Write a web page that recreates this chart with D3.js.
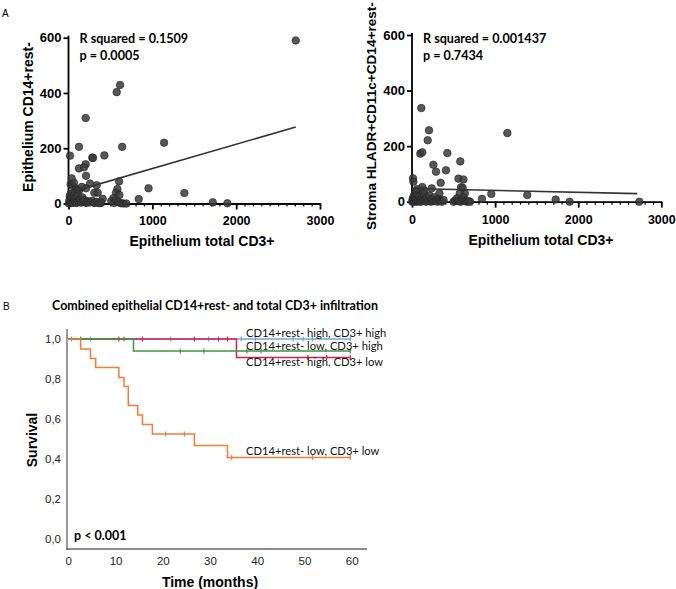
<!DOCTYPE html>
<html>
<head>
<meta charset="utf-8">
<script src="https://cdn.jsdelivr.net/npm/d3@7"></script>
<style>
  html, body { margin: 0; padding: 0; background: #fff; }
  svg { display: block; }
</style>
</head>
<body>
<svg id="chart" width="676" height="589"></svg>
<script>
// ---------- Panel A (left): Epithelium total CD3+ vs Epithelium CD14+rest- ----------
const leftX = [2711,575,615,205,125,640,1140,18,284,292,428,125,205,185,209,38,26,44,257,209,336,603,583,567,607,535,308,348,408,955,1382,838,1721,1895,90,105,
  5,10,15,20,25,30,35,40,48,55,60,70,75,85,95,110,120,135,150,165,180,195,215,235,260,285,310,335,365,390,510,545,570,595,625,655,690,130,160,65];
const leftY = [590,403,429,309,205,205,220,173,166,165,174,127,142,131,100,91,70,64,72,55,66,80,52,39,31,19,39,39,17,55,38,16,4,1,54,45,
  0,12,25,5,35,18,2,8,28,15,3,40,10,20,2,30,8,15,3,22,6,12,2,8,4,10,2,6,1,3,8,2,12,5,1,0,0,50,60,75];
const leftFit = [[0, 38.4], [2711, 277]];
const leftStats = ["R squared = 0.1509", "p = 0.0005"];

// ---------- Panel A (right): Epithelium total CD3+ vs Stroma HLADR+CD11c+CD14+rest- ----------
const rightX = [112,205,189,1147,100,124,425,581,257,289,409,345,12,17,559,619,590,610,124,237,636,575,52,954,1387,842,1729,1897,2735,
  3,8,14,20,26,33,40,47,55,62,70,78,88,96,106,118,130,142,155,168,182,196,210,225,240,255,270,288,305,322,340,360,380,500,520,540,560,585,600,620,640,660,680,700,150,60,330];
const rightY = [337,257,221,247,173,178,175,145,133,108,113,68,84,72,83,80,52,50,53,48,30,30,38,28,24,10,8,0,0,
  0,10,3,20,6,0,14,4,25,0,9,2,18,5,0,12,3,28,6,0,15,4,22,0,8,2,16,5,0,10,3,0,6,0,4,12,2,0,8,16,3,0,2,0,40,45,30];
const rightFit = [[0, 47.5], [2711, 29]];
const rightStats = ["R squared = 0.001437", "p = 0.7434"];

const scatterXTicks = [0, 1000, 2000, 3000];
const scatterYTicks = [0, 200, 400, 600];

// ---------- Panel B: Kaplan-Meier ----------
const kmSeries = ["CD14+rest- high, CD3+ high", "CD14+rest- high, CD3+ low", "CD14+rest- low, CD3+ high", "CD14+rest- low, CD3+ low"];
const kmColors = ["#6fa3e6", "#d8204f", "#3d9441", "#f47c3a"];
const kmEventTimes = [[], [35.6], [13.8], [2.6,4.7,5.8,10.7,11.8,12.7,14.7,15.7,17.8,26.7,33.7]];
const kmEventSurv = [[], [0.908], [0.94], [0.95,0.903,0.857,0.808,0.762,0.668,0.62,0.573,0.525,0.468,0.408]];
const kmCensor = [
  [0.7,4.7,21.7,29.7,36.6,39.6,47.6,49.7,51.7,59.7],
  [10.7,15.7,26.7,31.8,33.7,50.7,54.7,59.7],
  [2.6,11.8,23.7,28.7,37.8,40.8,59.7],
  [20.6,24.6,34.6,51.7,59.7]
];
const kmEnd = 59.7;
const kmXTicks = [0,10,20,30,40,50,60];
const kmYTicks = [0,0.2,0.4,0.6,0.8,1.0];

const svg = d3.select("#chart");
const ARIAL = "'Liberation Sans', Arial, sans-serif";
const CAL = "Lato, 'Open Sans', sans-serif";

// Panel letters
svg.append("text").attr("x", 2).attr("y", 17).attr("font-family", ARIAL).attr("font-size", 10).text("A");
svg.append("text").attr("x", 3).attr("y", 310).attr("font-family", ARIAL).attr("font-size", 10).text("B");

function scatterPanel(o) {
  const x = d3.scaleLinear().domain([0, 3000]).range([o.x0, o.x1]);
  const y = d3.scaleLinear().domain([0, 600]).range([o.y0, o.y1]);
  const g = svg.append("g");

  // minor x ticks
  const minor = g.append("g").attr("transform", `translate(0,${o.y0})`)
    .call(d3.axisBottom(x).tickValues(d3.range(0, 3001, 100)).tickSize(3).tickFormat(""));
  minor.select(".domain").remove();
  minor.selectAll("line").attr("stroke", "#000").attr("stroke-width", 1.2);

  const xa = g.append("g").attr("transform", `translate(0,${o.y0})`)
    .call(d3.axisBottom(x).tickValues(scatterXTicks).tickFormat(d3.format("d")).tickSize(6).tickPadding(7).tickSizeOuter(0));
  xa.select(".domain").attr("stroke", "#000").attr("stroke-width", 1.8);
  xa.selectAll("line").attr("stroke", "#000").attr("stroke-width", 1.8);
  xa.selectAll("text").attr("font-family", ARIAL).attr("font-weight", "bold").attr("font-size", 12.5).attr("fill", "#000");

  const ya = g.append("g").attr("transform", `translate(${o.x0},0)`)
    .call(d3.axisLeft(y).tickValues(scatterYTicks).tickFormat(d3.format("d")).tickSize(5).tickPadding(2).tickSizeOuter(0));
  ya.select(".domain").attr("stroke", "#000").attr("stroke-width", 1.8).attr("d", `M0,${o.y0}V${o.y1 - 2}`);
  ya.selectAll("line").attr("stroke", "#000").attr("stroke-width", 1.8);
  ya.selectAll("text").attr("font-family", ARIAL).attr("font-weight", "bold").attr("font-size", 13).attr("fill", "#000");

  // points
  g.append("g").selectAll("circle").data(o.xs.map((d, i) => [d, o.ys[i]])).join("circle")
    .attr("cx", d => x(d[0])).attr("cy", d => y(d[1])).attr("r", 3.8)
    .attr("fill", "#3a3a3a").attr("fill-opacity", 0.85).attr("stroke", "#222").attr("stroke-width", 0.6);

  // regression line
  g.append("path").attr("d", d3.line().x(d => x(d[0])).y(d => y(d[1]))(o.fit))
    .attr("stroke", "#333").attr("stroke-width", 1.6).attr("fill", "none");

  // stats
  g.append("text").attr("x", o.statX).attr("y", 43).attr("font-family", CAL).attr("font-weight", "bold").attr("font-size", 12.6).text(o.stats[0]);
  g.append("text").attr("x", o.statX).attr("y", 60).attr("font-family", CAL).attr("font-weight", "bold").attr("font-size", 12.6).text(o.stats[1]);

  // axis titles
  g.append("text").attr("x", o.xlabX).attr("y", o.xlabY).attr("text-anchor", "middle")
    .attr("font-family", ARIAL).attr("font-weight", "bold").attr("font-size", 14).text("Epithelium total CD3+");
  g.append("text").attr("transform", `translate(${o.ylabX},${o.ylabY}) rotate(-90)`).attr("text-anchor", "middle")
    .attr("dy", "0.35em").attr("font-family", ARIAL).attr("font-weight", "bold").attr("font-size", o.ylabSize).text(o.ylab);
}

scatterPanel({ x0: 68.5, x1: 320, y0: 203.5, y1: 37.7, xs: leftX, ys: leftY, fit: leftFit, stats: leftStats,
  statX: 79.5, xlabX: 202, xlabY: 246, ylabX: 28, ylabY: 117, ylabSize: 14, ylab: "Epithelium CD14+rest-" });
scatterPanel({ x0: 412, x1: 661.3, y0: 201.7, y1: 35, xs: rightX, ys: rightY, fit: rightFit, stats: rightStats,
  statX: 423, xlabX: 541, xlabY: 245, ylabX: 371, ylabY: 116, ylabSize: 13.6, ylab: "Stroma HLADR+CD11c+CD14+rest-" });

// ---------- Panel B ----------
const kx = d3.scaleLinear().domain([0, 60]).range([68.3, 351.7]);
const ky = d3.scaleLinear().domain([0, 1]).range([539, 339]);
const gB = svg.append("g");

gB.append("text").attr("x", 215).attr("y", 310).attr("text-anchor", "middle").attr("font-family", CAL)
  .attr("font-weight", "bold").attr("font-size", 12.4).text("Combined epithelial CD14+rest- and total CD3+ infiltration");

const kya = gB.append("g").attr("transform", "translate(67,0)")
  .call(d3.axisLeft(ky).tickValues(kmYTicks).tickSize(0).tickPadding(6).tickFormat(d => d3.format(".1f")(d).replace(".", ",")));
kya.select(".domain").remove();
kya.selectAll("text").attr("font-family", ARIAL).attr("font-size", 11.5).attr("fill", "#222");

const kxa = gB.append("g").attr("transform", "translate(0,549)")
  .call(d3.axisBottom(kx).tickValues(kmXTicks).tickSize(0).tickPadding(8));
kxa.select(".domain").remove();
kxa.selectAll("text").attr("font-family", ARIAL).attr("font-size", 11.5).attr("fill", "#222");

gB.append("line").attr("x1", 67).attr("x2", 67).attr("y1", 329).attr("y2", 550).attr("stroke", "#9a9a9a").attr("stroke-width", 2);
gB.append("line").attr("x1", 66).attr("x2", 367).attr("y1", 549).attr("y2", 549).attr("stroke", "#666").attr("stroke-width", 1.5);

// curves (draw order: blue, red, green, orange)
kmSeries.forEach((name, i) => {
  const pts = [[0, 1]];
  let s = 1;
  kmEventTimes[i].forEach((t, j) => { pts.push([t, s]); s = kmEventSurv[i][j]; pts.push([t, s]); });
  pts.push([kmEnd, s]);
  gB.append("path").attr("d", d3.line().x(d => kx(d[0])).y(d => ky(d[1]))(pts))
    .attr("fill", "none").attr("stroke", kmColors[i]).attr("stroke-width", 1.5);
  const survAt = t => { let v = 1; kmEventTimes[i].forEach((et, j) => { if (t >= et) v = kmEventSurv[i][j]; }); return v; };
  gB.append("g").selectAll("line").data(kmCensor[i]).join("line")
    .attr("x1", d => kx(d)).attr("x2", d => kx(d))
    .attr("y1", d => ky(survAt(d)) - 2.5).attr("y2", d => ky(survAt(d)) + 2.5)
    .attr("stroke", kmColors[i]).attr("stroke-width", 1.2);
});

// series labels
const labelPos = [[246, 337], [246, 366], [246, 350], [246, 455]];
kmSeries.forEach((name, i) => {
  gB.append("text").attr("x", labelPos[i][0]).attr("y", labelPos[i][1]).attr("font-family", CAL)
    .attr("font-size", 11.2).attr("fill", "#111").text(name);
});

gB.append("text").attr("x", 74).attr("y", 540).attr("font-family", CAL).attr("font-weight", "bold").attr("font-size", 12.5).text("p < 0.001");

gB.append("text").attr("transform", "translate(32,440) rotate(-90)").attr("text-anchor", "middle").attr("dy", "0.35em")
  .attr("font-family", ARIAL).attr("font-weight", "bold").attr("font-size", 14).text("Survival");
gB.append("text").attr("x", 210).attr("y", 587).attr("text-anchor", "middle")
  .attr("font-family", ARIAL).attr("font-weight", "bold").attr("font-size", 14).text("Time (months)");
</script>
</body>
</html>
